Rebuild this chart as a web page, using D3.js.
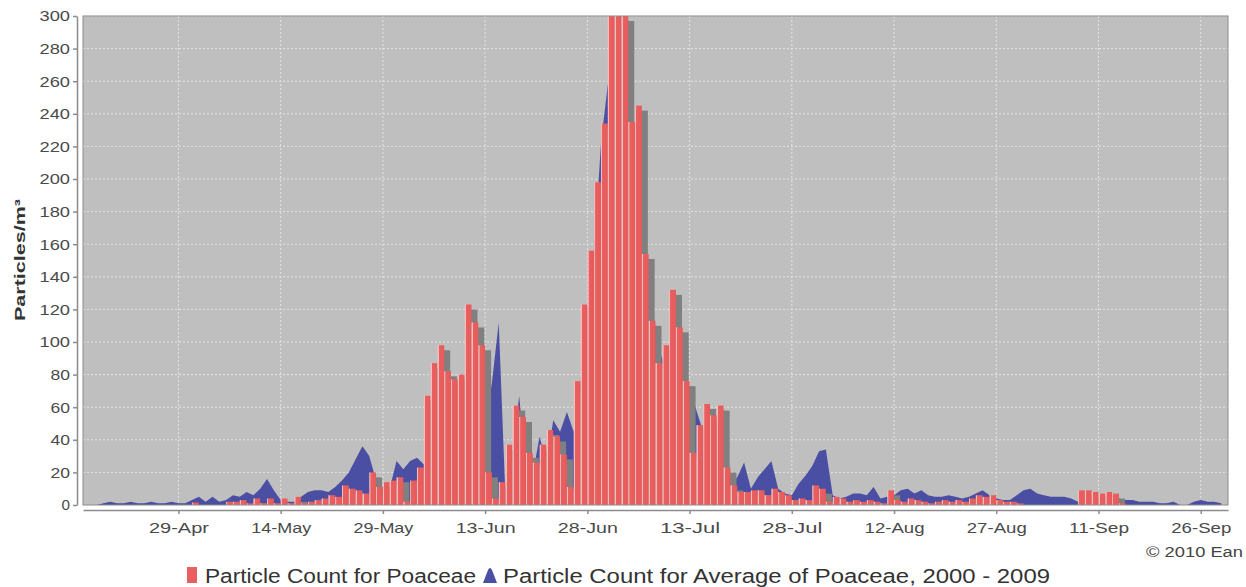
<!DOCTYPE html>
<html>
<head>
<meta charset="utf-8">
<script src="https://cdn.jsdelivr.net/npm/d3@7"></script>
<style>
  body { margin: 0; background: #fff; }
  text { font-family: 'Liberation Sans', Arial, sans-serif; }
</style>
</head>
<body>
<div class="chart"></div>
<script>
  const width = 1246
  const height = 587
  const margin = {
    top: 16,
    right: 18,
    bottom: 82,
    left: 83,
  }

  // daily series, first value is 15-Apr-2010
  const startDate = '2010-04-15'
  const endDate = '2010-09-30'

  const countValues = [
    0, 0, 0, 0, 0, 0, 0, 0, 0, 0,
    0, 0, 0, 0, 0, 0, 1.5, 0, 0, 0,
    0, 2, 2, 3, 1, 4, 1, 4, 1, 4,
    1, 5, 1, 2, 3, 4, 6, 5, 12, 10,
    9, 7, 20, 11, 14, 15, 17, 2, 15, 23,
    67, 87, 98, 82, 77, 80, 123, 112, 98, 20,
    4, 14, 37, 61, 54, 32, 26, 37, 46, 42,
    31, 11, 76, 123, 156, 198, 234, 340, 325, 300,
    235, 245, 154, 113, 87, 98, 132, 109, 76, 32,
    49, 62, 55, 61, 23, 12, 8, 8, 9, 9,
    6, 10, 8, 6, 3, 4, 3, 12, 10, 2,
    5, 4, 2, 3, 2, 3, 2, 1, 9, 3,
    2, 4, 3, 2, 1, 2, 3, 2, 3, 2,
    4, 6, 5, 6, 3, 2, 2, 1, 0, 0,
    0, 0, 0, 0, 0, 0, 9, 9, 8, 7,
    8, 7, 1, 0, 0, 0, 0, 0, 0, 0,
    0, 0, 0, 0, 0, 0, 0, 0,
  ]

  const avgValues = [
    0, 0, 0, 1, 2, 1, 1, 2, 1, 1,
    2, 1, 1, 2, 1, 1, 3, 5, 2, 5,
    2, 3, 6, 5, 8, 6, 10, 16, 9, 3,
    2, 2, 5, 8, 9, 9, 8, 11, 15, 20,
    28, 36, 30, 15, 11, 10, 27, 22, 27, 29,
    25, 22, 25, 30, 35, 40, 45, 40, 35, 50,
    75, 112, 3, 30, 67, 20, 19, 42, 25, 52,
    45, 57, 45, 75, 120, 155, 222, 258, 250, 230,
    200, 180, 150, 120, 100, 90, 85, 80, 76, 73,
    58, 45, 40, 35, 20, 12, 17, 26, 10, 17,
    22, 27, 10, 7, 6, 13, 18, 24, 33, 34,
    6, 4, 5, 7, 7, 6, 11, 4, 5, 6,
    9, 10, 7, 9, 6, 5, 5, 6, 5, 4,
    5, 7, 9, 6, 4, 3, 3, 6, 9, 10,
    7, 6, 5, 5, 5, 4, 2, 3, 4, 4,
    5, 6, 4, 3, 3, 2, 2, 2, 1, 1,
    2, 0, 0, 2, 3, 2, 2, 1,
  ]

  const xTickDates = ['2010-04-29', '2010-05-14', '2010-05-29', '2010-06-13', '2010-06-28',
    '2010-07-13', '2010-07-28', '2010-08-12', '2010-08-27', '2010-09-11', '2010-09-26']
  const yTickValues = [0, 20, 40, 60, 80, 100, 120, 140, 160, 180, 200, 220, 240, 260, 280, 300]

  const legendLabels = ['Particle Count for Poaceae', 'Particle Count for Average of Poaceae, 2000 - 2009']
  const yLabel = 'Particles/m³'
  const credit = '© 2010 Ean'

  const barColor = '#e96060'
  const areaColor = '#4a4fa3'
  const shadowColor = '#808080'

  const parseDay = d3.utcParse('%Y-%m-%d')
  const start = parseDay(startDate)
  const days = countValues.map((v, i) => ({
    date: d3.utcDay.offset(start, i),
    count: v,
    avg: avgValues[i],
  }))

  drawChart(days)

function drawChart(data){
  const plotW = width - margin.left - margin.right
  const plotH = height - margin.top - margin.bottom

  const xScale = d3.scaleUtc()
    .domain([start, parseDay(endDate)])
    .range([margin.left, width - margin.right])

  const yScale = d3.scaleLinear()
    .domain([0, 300])
    .range([height - margin.bottom, margin.top])

  const svg = d3.select('.chart').append('svg')
    .attr('width', width)
    .attr('height', height)

  const defs = svg.append('defs')
  defs.append('clipPath')
    .attr('id', 'plot-clip')
    .append('rect')
    .attr('x', margin.left)
    .attr('y', margin.top)
    .attr('width', plotW)
    .attr('height', plotH)

  const grad = defs.append('linearGradient')
    .attr('id', 'bar-grad')
    .attr('x1', 0).attr('x2', 1).attr('y1', 0).attr('y2', 0)
  grad.append('stop').attr('offset', '0%').attr('stop-color', '#f6bcbc')
  grad.append('stop').attr('offset', '16%').attr('stop-color', '#f6bcbc')
  grad.append('stop').attr('offset', '20%').attr('stop-color', barColor)
  grad.append('stop').attr('offset', '100%').attr('stop-color', '#e75a5a')

  svg.append('rect')
    .attr('x', margin.left)
    .attr('y', margin.top)
    .attr('width', plotW)
    .attr('height', plotH)
    .attr('fill', '#bfbfbf')

  // grid
  const grid = svg.append('g').attr('class', 'grid')
    .attr('stroke', '#e4e4e4')
    .attr('stroke-dasharray', '2,2')
  grid.selectAll('.hline')
    .data(yTickValues.slice(1))
    .join('line')
    .attr('x1', margin.left)
    .attr('x2', width - margin.right)
    .attr('y1', d => yScale(d))
    .attr('y2', d => yScale(d))
  grid.selectAll('.vline')
    .data(xTickDates.map(parseDay))
    .join('line')
    .attr('x1', d => xScale(d))
    .attr('x2', d => xScale(d))
    .attr('y1', margin.top)
    .attr('y2', height - margin.bottom)

  const plot = svg.append('g')
    .attr('clip-path', 'url(#plot-clip)')

  const area = d3.area()
    .x(d => xScale(d.date))
    .y0(yScale(0))
    .y1(d => yScale(d.avg))

  plot.append('path')
    .datum(data)
    .attr('fill', areaColor)
    .attr('d', area)

  const bar = plot.selectAll('g.bar')
    .data(data.filter(d => d.count > 0))
    .join('g')
    .attr('class', 'bar')

  const barW = d => xScale(d3.utcDay.offset(d.date, 1)) - xScale(d.date)

  bar.append('rect')
    .attr('x', d => xScale(d.date) + 6)
    .attr('y', d => yScale(d.count) + 5)
    .attr('width', barW)
    .attr('height', d => yScale(0) - yScale(d.count))
    .attr('fill', shadowColor)

  bar.append('rect')
    .attr('x', d => xScale(d.date))
    .attr('y', d => yScale(d.count))
    .attr('width', barW)
    .attr('height', d => yScale(0) - yScale(d.count))
    .attr('fill', 'url(#bar-grad)')

  svg.append('rect')
    .attr('x', margin.left)
    .attr('y', margin.top)
    .attr('width', plotW)
    .attr('height', plotH)
    .attr('fill', 'none')
    .attr('stroke', '#8c8c8c')

  // axes
  const yAxis = d3.axisLeft(yScale)
    .tickValues(yTickValues)
    .tickSize(4)
    .tickSizeOuter(0)
    .tickPadding(3)

  const yG = svg.append('g')
    .attr('class', 'y-axis')
    .attr('transform', `translate(${margin.left - 6}, 0)`)
    .call(yAxis)
  yG.selectAll('text')
    .attr('fill', '#4a4a4a')
    .style('font-size', '15px')
    .attr('textLength', d => String(d).length * 11 - 2.5)
    .attr('lengthAdjust', 'spacingAndGlyphs')

  const xAxis = d3.axisBottom(xScale)
    .tickValues(xTickDates.map(parseDay))
    .tickFormat(d3.utcFormat('%d-%b'))
    .tickSize(4)
    .tickSizeOuter(0)
    .tickPadding(8)

  const xG = svg.append('g')
    .attr('class', 'x-axis')
    .attr('transform', `translate(0, ${height - margin.bottom + 5})`)
    .call(xAxis)
  xG.selectAll('text')
    .attr('fill', '#4a4a4a')
    .style('font-size', '15px')
    .attr('textLength', 60)
    .attr('lengthAdjust', 'spacingAndGlyphs')

  svg.selectAll('.domain, .tick line')
    .attr('stroke', '#8c8c8c')
    .attr('stroke-width', 1.5)

  svg.append('text')
    .attr('transform', 'translate(25, 260) rotate(-90)')
    .attr('text-anchor', 'middle')
    .attr('font-weight', 'bold')
    .attr('font-size', '15px')
    .attr('fill', '#333')
    .attr('textLength', 122)
    .attr('lengthAdjust', 'spacingAndGlyphs')
    .text(yLabel)

  svg.append('text')
    .attr('x', 1243)
    .attr('y', 557)
    .attr('text-anchor', 'end')
    .attr('font-size', '14px')
    .attr('fill', '#444')
    .attr('textLength', 97)
    .attr('lengthAdjust', 'spacingAndGlyphs')
    .text(credit)

  // legend
  const legend = svg.append('g').attr('class', 'legend')
  legend.append('rect')
    .attr('x', 187)
    .attr('y', 567)
    .attr('width', 10)
    .attr('height', 16)
    .attr('fill', barColor)
  legend.append('path')
    .attr('d', 'M483,583 L488,570 Q490,566 492,570 L497,583 Z')
    .attr('fill', areaColor)
  legend.selectAll('text')
    .data(legendLabels)
    .join('text')
    .attr('x', (d, i) => i === 0 ? 205 : 503)
    .attr('y', 583)
    .attr('font-size', '20px')
    .attr('fill', '#333')
    .attr('textLength', (d, i) => i === 0 ? 271 : 547)
    .attr('lengthAdjust', 'spacingAndGlyphs')
    .text(d => d)
}
</script>
</body>
</html>
